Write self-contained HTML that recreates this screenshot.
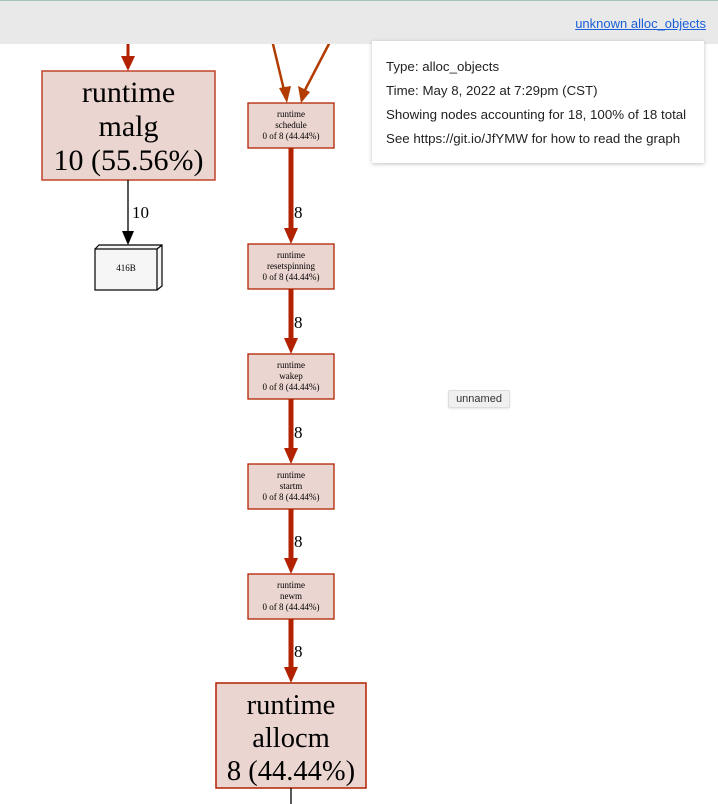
<!DOCTYPE html>
<html><head><meta charset="utf-8"><style>
html,body{margin:0;padding:0;width:718px;height:804px;overflow:hidden;background:#fff;}
#hdr{position:absolute;left:0;top:0;width:718px;height:44px;background:#e9e9e9;border-top:1px solid #a8c4c0;box-sizing:border-box;}
#lnk{position:absolute;right:12px;top:15px;font:13px "Liberation Sans",sans-serif;color:#1a5fd8;text-decoration:underline;}
#tip{position:absolute;left:372px;top:41px;width:332px;height:122px;background:#fff;box-shadow:0 1px 4px rgba(0,0,0,0.25);font:13.3px "Liberation Sans",sans-serif;color:#222;}
#tip div{position:absolute;left:14px;}
#un{position:absolute;left:448px;top:390px;width:62px;height:18px;background:#f0f0f0;border:1px solid #ddd;border-radius:2px;box-sizing:border-box;font:11px "Liberation Sans",sans-serif;color:#333;text-align:center;line-height:16px;box-shadow:0 1px 2px rgba(0,0,0,0.1);}
svg{position:absolute;left:0;top:0;}
</style></head><body>
<svg width="718" height="804" font-family="Liberation Serif, serif">
<line x1="128" y1="40" x2="128" y2="56" stroke="#b22200" stroke-width="3"/>
<path d="M121,56 L135,56 L128,71 z" fill="#b22200"/>
<line x1="272" y1="40" x2="284" y2="90" stroke="#b23c00" stroke-width="2.5"/>
<path d="M279,88 L291,86 L287,103 z" fill="#b23c00"/>
<line x1="331" y1="40" x2="305" y2="90" stroke="#b23c00" stroke-width="2.5"/>
<path d="M298,86 L310,92 L301,103 z" fill="#b23c00"/>
<rect x="42" y="71" width="173" height="109" fill="#ebd5d0" stroke="#c0442a" stroke-width="1.5"/>
<text x="128.5" y="102" font-size="30" text-anchor="middle">runtime</text>
<text x="128.5" y="136" font-size="30" text-anchor="middle">malg</text>
<text x="128.5" y="170" font-size="30" text-anchor="middle">10 (55.56%)</text>
<line x1="128" y1="180" x2="128" y2="232" stroke="#000" stroke-width="1.3"/>
<path d="M122,231 L134,231 L128,245 z" fill="#000"/>
<text x="132" y="218" font-size="17">10</text>
<path d="M95,249 L99,245 L162,245 L162,286 L157,290" fill="#f6f6f6" stroke="#000" stroke-width="1.2"/>
<rect x="95" y="249" width="62" height="41" fill="#f6f6f6" stroke="#000" stroke-width="1.2"/>
<line x1="157" y1="249" x2="162" y2="245" stroke="#000" stroke-width="1.2"/>
<text x="126" y="271" font-size="9" text-anchor="middle">416B</text>
<g font-size="9" text-anchor="middle">
<rect x="248" y="103" width="86" height="45" fill="#ebd5d0" stroke="#b22200" stroke-width="1.3"/>
<text x="291" y="117">runtime</text><text x="291" y="128">schedule</text><text x="291" y="139">0 of 8 (44.44%)</text>
<rect x="248" y="244" width="86" height="45" fill="#ebd5d0" stroke="#b22200" stroke-width="1.3"/>
<text x="291" y="258">runtime</text><text x="291" y="269">resetspinning</text><text x="291" y="280">0 of 8 (44.44%)</text>
<rect x="248" y="354" width="86" height="45" fill="#ebd5d0" stroke="#b22200" stroke-width="1.3"/>
<text x="291" y="368">runtime</text><text x="291" y="379">wakep</text><text x="291" y="390">0 of 8 (44.44%)</text>
<rect x="248" y="464" width="86" height="45" fill="#ebd5d0" stroke="#b22200" stroke-width="1.3"/>
<text x="291" y="478">runtime</text><text x="291" y="489">startm</text><text x="291" y="500">0 of 8 (44.44%)</text>
<rect x="248" y="574" width="86" height="45" fill="#ebd5d0" stroke="#b22200" stroke-width="1.3"/>
<text x="291" y="588">runtime</text><text x="291" y="599">newm</text><text x="291" y="610">0 of 8 (44.44%)</text>
</g>
<g stroke="#b22200" stroke-width="5">
<line x1="291" y1="148" x2="291" y2="229"/>
<line x1="291" y1="289" x2="291" y2="339"/>
<line x1="291" y1="399" x2="291" y2="449"/>
<line x1="291" y1="509" x2="291" y2="559"/>
<line x1="291" y1="619" x2="291" y2="668"/>
</g>
<g fill="#b22200">
<path d="M284,228 L298,228 L291,244 z"/>
<path d="M284,338 L298,338 L291,354 z"/>
<path d="M284,448 L298,448 L291,464 z"/>
<path d="M284,558 L298,558 L291,574 z"/>
<path d="M284,667 L298,667 L291,683 z"/>
</g>
<g font-size="17">
<text x="294" y="218">8</text>
<text x="294" y="328">8</text>
<text x="294" y="438">8</text>
<text x="294" y="547">8</text>
<text x="294" y="657">8</text>
</g>
<rect x="216" y="683" width="150" height="105" fill="#ebd5d0" stroke="#b22200" stroke-width="1.5"/>
<text x="291" y="714" font-size="28.5" text-anchor="middle">runtime</text>
<text x="291" y="747" font-size="28.5" text-anchor="middle">allocm</text>
<text x="291" y="780" font-size="28.5" text-anchor="middle">8 (44.44%)</text>
<line x1="291" y1="788" x2="291" y2="804" stroke="#000" stroke-width="1.3"/>
</svg>
<div id="hdr"><span id="lnk">unknown alloc_objects</span></div>
<div id="tip">
<div style="top:18px">Type: alloc_objects</div>
<div style="top:42px">Time: May 8, 2022 at 7:29pm (CST)</div>
<div style="top:66px">Showing nodes accounting for 18, 100% of 18 total</div>
<div style="top:90px">See https://git.io/JfYMW for how to read the graph</div>
</div>
<div id="un">unnamed</div>
</body></html>
